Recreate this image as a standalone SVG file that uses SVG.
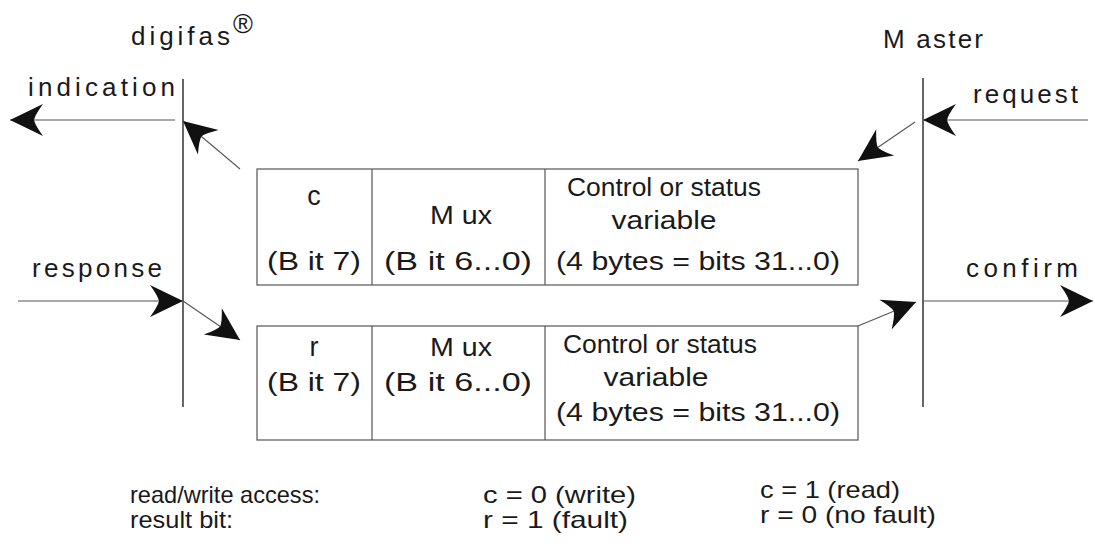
<svg xmlns="http://www.w3.org/2000/svg" width="1095" height="544" viewBox="0 0 1095 544">
<style>
text{font-family:"Liberation Sans",Arial,sans-serif;fill:#1a1a1a}
.lbl{font-size:26px}
.cell{font-size:26px}
.leg{font-size:24px}
.mid{text-anchor:middle}
.ln{stroke:#555;stroke-width:1.1;fill:none}
.axis{stroke:#333;stroke-width:1.5;fill:none}
.box{fill:none;stroke:#555;stroke-width:1.2}
</style>
<defs>
<marker id="ah" markerUnits="userSpaceOnUse" viewBox="-35 -18 37 36" refX="0" refY="0" markerWidth="37" markerHeight="36" orient="auto">
<path d="M0,0 L-33,-16 Q-25,-5 -24,0 Q-25,5 -33,16 Z" fill="#111"/>
</marker>
</defs>
<g id="digifas">
<text class="lbl" x="131" y="45" textLength="99" lengthAdjust="spacing">digifas</text>
<text x="233" y="33" style="font-size:27px">®</text>
<line class="axis" x1="183" y1="79" x2="183" y2="407"/>
</g>
<g id="master">
<text class="lbl" x="883" y="48" textLength="100" lengthAdjust="spacing">M aster</text>
<line class="axis" x1="923" y1="78" x2="923" y2="407"/>
</g>
<g id="labels">
<text class="lbl" x="28" y="96" textLength="147" lengthAdjust="spacing">indication</text>
<text class="lbl" x="973" y="103" textLength="105" lengthAdjust="spacing">request</text>
<text class="lbl" x="32" y="277" textLength="130" lengthAdjust="spacing">response</text>
<text class="lbl" x="966" y="277" textLength="112" lengthAdjust="spacing">confirm</text>
</g>
<g id="frame-request">
<rect class="box" x="257" y="169" width="601" height="116"/>
<line class="box" x1="372" y1="169" x2="372" y2="285"/>
<line class="box" x1="545" y1="169" x2="545" y2="285"/>
<text class="cell mid" x="314" y="205" style="font-size:27px">c</text>
<text class="cell mid" x="314" y="270" textLength="94" lengthAdjust="spacingAndGlyphs">(B it 7)</text>
<text class="cell mid" x="461" y="224" textLength="62" lengthAdjust="spacingAndGlyphs">M ux</text>
<text class="cell mid" x="458" y="270" textLength="148" lengthAdjust="spacingAndGlyphs">(B it 6...0)</text>
<text class="cell" x="567" y="196" textLength="194" lengthAdjust="spacingAndGlyphs">Control or status</text>
<text class="cell mid" x="664" y="229" textLength="105" lengthAdjust="spacingAndGlyphs">variable</text>
<text class="cell" x="556" y="270" textLength="284" lengthAdjust="spacingAndGlyphs">(4 bytes = bits 31...0)</text>
</g>
<g id="frame-response">
<rect class="box" x="257" y="326" width="601" height="114"/>
<line class="box" x1="372" y1="326" x2="372" y2="440"/>
<line class="box" x1="545" y1="326" x2="545" y2="440"/>
<text class="cell mid" x="314" y="356" style="font-size:27px">r</text>
<text class="cell mid" x="314" y="391" textLength="94" lengthAdjust="spacingAndGlyphs">(B it 7)</text>
<text class="cell mid" x="461" y="356" textLength="62" lengthAdjust="spacingAndGlyphs">M ux</text>
<text class="cell mid" x="458" y="391" textLength="148" lengthAdjust="spacingAndGlyphs">(B it 6...0)</text>
<text class="cell" x="563" y="353" textLength="194" lengthAdjust="spacingAndGlyphs">Control or status</text>
<text class="cell mid" x="656" y="386" textLength="105" lengthAdjust="spacingAndGlyphs">variable</text>
<text class="cell" x="556" y="421" textLength="284" lengthAdjust="spacingAndGlyphs">(4 bytes = bits 31...0)</text>
</g>
<g id="connectors">
<line class="ln" x1="175" y1="120" x2="10" y2="120" marker-end="url(#ah)"/>
<line class="ln" x1="240" y1="169" x2="183" y2="121" marker-end="url(#ah)"/>
<line class="ln" x1="1088" y1="120" x2="923" y2="120" marker-end="url(#ah)"/>
<line class="ln" x1="915" y1="122" x2="858" y2="161" marker-end="url(#ah)"/>
<line class="ln" x1="18" y1="301" x2="183" y2="301" marker-end="url(#ah)"/>
<line class="ln" x1="183" y1="301" x2="240" y2="340" marker-end="url(#ah)"/>
<line class="ln" x1="923" y1="301" x2="1093" y2="301" marker-end="url(#ah)"/>
<line class="ln" x1="858" y1="326" x2="916" y2="302" marker-end="url(#ah)"/>
</g>
<g id="legend">
<text class="leg" x="130" y="503" textLength="190" lengthAdjust="spacingAndGlyphs">read/write access:</text>
<text class="leg" x="130" y="528" textLength="103" lengthAdjust="spacingAndGlyphs">result bit:</text>
<text class="leg" x="483" y="503" textLength="153" lengthAdjust="spacingAndGlyphs">c = 0 (write)</text>
<text class="leg" x="483" y="528" textLength="145" lengthAdjust="spacingAndGlyphs">r = 1 (fault)</text>
<text class="leg" x="760" y="498" textLength="140" lengthAdjust="spacingAndGlyphs">c = 1 (read)</text>
<text class="leg" x="760" y="523" textLength="176" lengthAdjust="spacingAndGlyphs">r = 0 (no fault)</text>
</g>
</svg>
